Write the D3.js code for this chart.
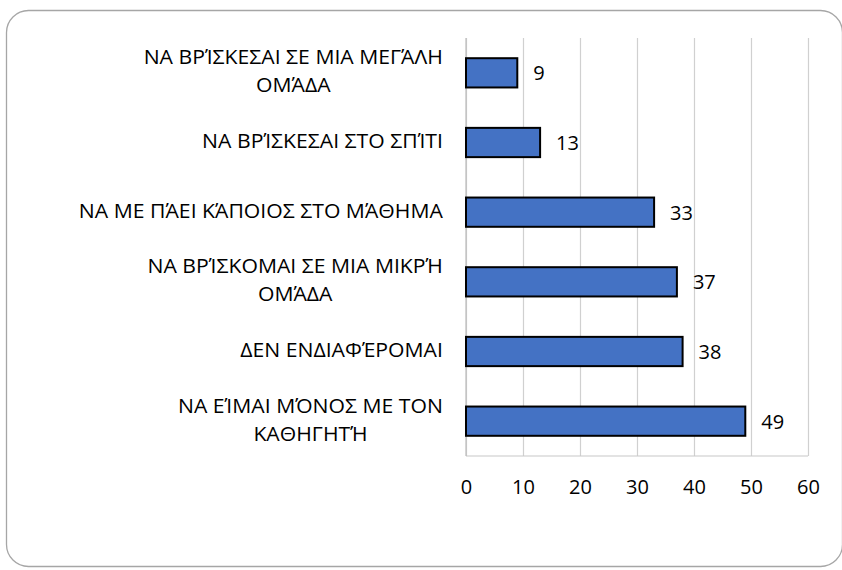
<!DOCTYPE html>
<html>
<head>
<meta charset="utf-8">
<script src="https://cdn.jsdelivr.net/npm/d3@7"></script>
<style>
  html, body { margin: 0; padding: 0; background: #fff; }
  svg { display: block; }
  text { font-family: "Open Sans", sans-serif; fill: #000; }
</style>
</head>
<body>
<svg id="chart" width="842" height="570"></svg>
<script>
// ---- data ----
const categories = [
  "ΝΑ ΒΡΊΣΚΕΣΑΙ ΣΕ ΜΙΑ ΜΕΓΆΛΗ\nΟΜΆΔΑ",
  "ΝΑ ΒΡΊΣΚΕΣΑΙ ΣΤΟ ΣΠΊΤΙ",
  "ΝΑ ΜΕ ΠΆΕΙ ΚΆΠΟΙΟΣ ΣΤΟ ΜΆΘΗΜΑ",
  "ΝΑ ΒΡΊΣΚΟΜΑΙ ΣΕ ΜΙΑ ΜΙΚΡΉ\nΟΜΆΔΑ",
  "ΔΕΝ ΕΝΔΙΑΦΈΡΟΜΑΙ",
  "ΝΑ ΕΊΜΑΙ ΜΌΝΟΣ ΜΕ ΤΟΝ\nΚΑΘΗΓΗΤΉ"
];
const values = [9, 13, 33, 37, 38, 49];
const xTicks = [0, 10, 20, 30, 40, 50, 60];

// ---- layout ----
const svg = d3.select("#chart");
const plot = { left: 466, right: 808, top: 38, bottom: 456 };
const fontSize = 20;
const sx = 1.06; // horizontal text scale

// card
svg.append("rect")
  .attr("x", 6.5).attr("y", 10.5)
  .attr("width", 836).attr("height", 556)
  .attr("rx", 22).attr("ry", 22)
  .attr("fill", "#fff")
  .attr("stroke", "#a6a6a6")
  .attr("stroke-width", 1.3);

const x = d3.scaleLinear().domain([0, 60]).range([plot.left, plot.right]);
const y = d3.scaleBand().domain(categories).range([plot.top, plot.bottom])
  .paddingInner(0.58).paddingOuter(0.29);

// gridlines via axis
const grid = svg.append("g")
  .attr("transform", `translate(0,${plot.bottom})`)
  .call(d3.axisBottom(x).tickValues(xTicks).tickSize(-(plot.bottom - plot.top)).tickFormat(""));
grid.select(".domain").remove();
grid.selectAll(".tick line").attr("stroke", "#d0d0d0").attr("stroke-width", 1.2);

// bottom axis line
svg.append("line")
  .attr("x1", x(0)).attr("x2", x(60))
  .attr("y1", plot.bottom).attr("y2", plot.bottom)
  .attr("stroke", "#c8c8c8").attr("stroke-width", 1.2);
// left axis line
svg.append("line")
  .attr("x1", x(0)).attr("x2", x(0))
  .attr("y1", plot.top).attr("y2", plot.bottom)
  .attr("stroke", "#bdbdbd").attr("stroke-width", 1.2);

// tick labels
const xAxis = svg.append("g")
  .attr("transform", `translate(0,${plot.bottom})`)
  .call(d3.axisBottom(x).tickValues(xTicks).tickSize(0).tickPadding(24));
xAxis.select(".domain").remove();
xAxis.selectAll("text")
  .style("font-family", '"Open Sans", sans-serif')
  .style("font-size", fontSize + "px")
  .attr("fill", "#000");

// bars
svg.append("g").selectAll("rect")
  .data(values)
  .join("rect")
  .attr("x", x(0))
  .attr("y", (d, i) => y(categories[i]))
  .attr("width", d => x(d) - x(0))
  .attr("height", y.bandwidth())
  .attr("fill", "#4472C4")
  .attr("stroke", "#000")
  .attr("stroke-width", 2);

// value labels
svg.append("g").selectAll("text")
  .data(values)
  .join("text")
  .attr("x", d => x(d) + 16)
  .attr("y", (d, i) => y(categories[i]) + y.bandwidth() / 2 + 2)
  .attr("dominant-baseline", "middle")
  .style("font-size", fontSize + "px")
  .text(d => d);

// category labels
const labelRight = 443;
const lineH = 28;
const lab = svg.append("g");
categories.forEach((c, i) => {
  const lines = c.split("\n");
  const cy = y(c) + y.bandwidth() / 2;
  const g = lab.append("g");
  const texts = lines.map((ln, j) => g.append("text")
    .attr("y", cy + (j - (lines.length - 1) / 2) * lineH)
    .attr("dominant-baseline", "middle")
    .style("font-size", fontSize + "px")
    .text(ln));
  const widths = texts.map(t => t.node().getComputedTextLength() * sx);
  const maxW = d3.max(widths);
  const center = labelRight - maxW / 2;
  texts.forEach((t) => {
    t.attr("text-anchor", "middle")
     .attr("transform", `translate(${center},0) scale(${sx},1)`)
     .attr("x", 0);
  });
});
</script>
</body>
</html>
